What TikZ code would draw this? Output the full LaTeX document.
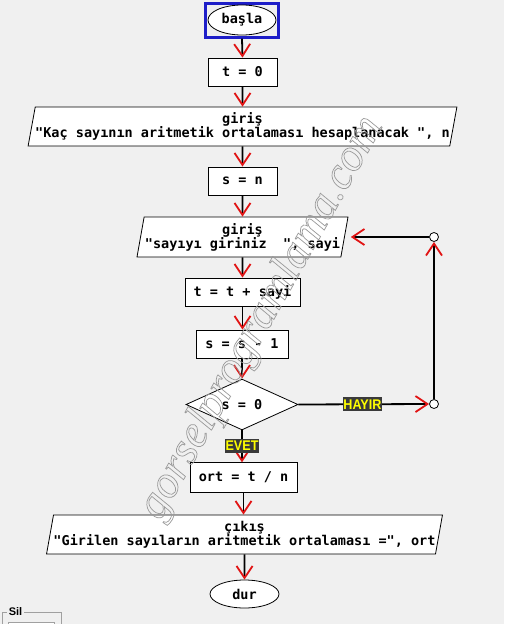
\documentclass[tikz,border=0pt]{standalone}
\usepackage{fontspec}
\setmonofont{DejaVu Sans Mono}
\newfontfamily\lblfont{Liberation Sans}[FakeStretch=0.9]
\newfontfamily\silfont{Liberation Sans}
\newfontfamily\wmfont{Liberation Serif}
\usetikzlibrary{shapes.geometric,arrows.meta}
\definecolor{bgc}{RGB}{240,240,240}
\definecolor{arr}{RGB}{225,20,20}
\definecolor{selblue}{RGB}{30,30,200}
\definecolor{lblbg}{RGB}{58,58,58}
\definecolor{lblfg}{RGB}{255,255,0}
\definecolor{framegray}{RGB}{160,160,160}
\begin{document}
\begin{tikzpicture}[x=1pt,y=-1pt,
  every node/.style={font=\ttfamily\bfseries\fontsize{13.5}{14}\selectfont, inner sep=0pt},
  procbox/.style={draw=black, fill=white, line width=0.8pt, minimum height=28pt},
  iobox/.style={draw=black, fill=white, line width=0.8pt, shape=trapezium,
    trapezium left angle=75.6, trapezium right angle=104.4,
    trapezium stretches body, minimum height=39pt, align=center},
  termbox/.style={draw=black, fill=white, line width=0.8pt, shape=ellipse},
  decbox/.style={draw=black, fill=white, line width=0.8pt, shape=diamond,
    minimum width=112pt, minimum height=49pt},
  flow/.style={draw=black, line width=1.8pt,
    -{Straight Barb[color=arr, length=12pt, width=16pt, line width=1.8pt]}},
  joint/.style={circle, draw=black, fill=white, line width=0.8pt, minimum size=9pt},
  lbl/.style={fill=lblbg, text=lblfg, font=\lblfont\bfseries\fontsize{14}{14}\selectfont,
    inner xsep=0.8pt, inner ysep=2pt}
]
\fill[bgc] (0,0) rectangle (504,624);
\useasboundingbox (0,0) rectangle (504,624);

% nodes
\node[draw=selblue, line width=2.2pt, minimum width=73pt, minimum height=34pt] (sel) at (242,20.5) {};
\node[termbox, minimum width=68pt, minimum height=30pt] (start) at (242,20) {başla};
\node[procbox, minimum width=69pt] (t0) at (242.5,72) {t = 0};
\node[iobox, minimum width=428pt] (in1) at (242.5,126.5)
  {giriş\\"Kaç sayının aritmetik ortalaması hesaplanacak ", n};
\node[procbox, minimum width=69pt] (sn) at (242.5,181) {s = n};
\node[iobox, minimum width=211pt, minimum height=40pt] (in2) at (242.5,237)
  {giriş\\"sayıyı giriniz\ \ ", sayi};
\node[procbox, minimum width=115pt] (tt) at (242.5,292) {t = t + sayi};
\node[procbox, minimum width=92pt] (ss) at (242,344) {s = s - 1};
\node[decbox] (dec) at (242,404.5) {s = 0};
\node[procbox, minimum width=107pt, minimum height=29.5pt] (ort) at (243.5,477.5) {ort = t / n};
\node[iobox, minimum width=395pt] (out) at (244.5,534.5)
  {çıkış\\"Girilen sayıların aritmetik ortalaması =", ort};
\node[termbox, minimum width=69pt, minimum height=28pt] (stop) at (244.5,594) {dur};
\node[joint] (j1) at (434,404) {};
\node[joint] (j2) at (434,237) {};

% connectors
\draw[flow] (sel.south) -- (t0.north);
\draw[flow] (t0.south) -- (in1.north);
\draw[flow] (in1.south) -- (sn.north);
\draw[flow] (sn.south) -- (in2.north);
\draw[flow] (in2.south) -- (tt.north);
\draw[flow] (tt.south) -- (tt.south |- ss.north);
\draw[flow] (ss.south) -- (dec.north);
\draw[flow] (dec.south) -- node[lbl, pos=0.48] {EVET} (dec.south |- ort.north);
\draw[flow] (ort.south) -- (ort.south |- out.north);
\draw[flow] (out.south) -- (stop.north);
\draw[flow] (dec.east) -- node[lbl, pos=0.49] {HAYIR} (j1.west);
\draw[flow] (j1.north) -- (j2.south);
\draw[flow] (j2.west) -- ([xshift=6pt]in2.east);

% "Sil" group box
\draw[framegray, line width=0.8pt] (2,630) |- (61,612.5) -- (61,630);
\draw[framegray, fill=white, line width=0.8pt] (8,622) rectangle (54,632);
\node[fill=bgc, inner xsep=1.5pt, font=\silfont\bfseries\fontsize{11}{11}\selectfont] (sil) at (15.5,611.5) {Sil};

% watermark
\node[rotate=60.6, text=gray!45, font=\wmfont\itshape\fontsize{46}{46}\selectfont] (wm) at (262,318)
  {\special{pdf:literal direct 1 Tr 0.7 w 0.6 G}gorselprogramlama.com\special{pdf:literal direct 0 Tr}};
\end{tikzpicture}
\end{document}
